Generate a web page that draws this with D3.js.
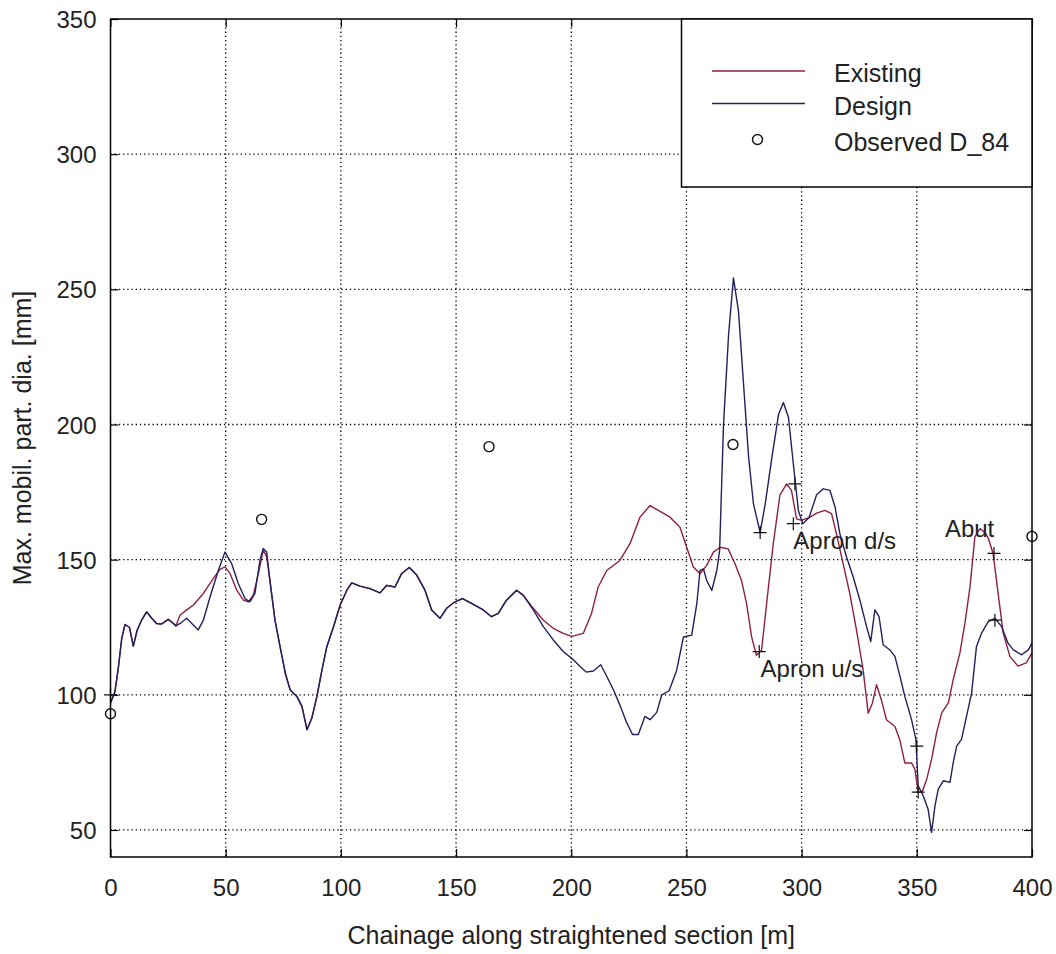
<!DOCTYPE html>
<html>
<head>
<meta charset="utf-8">
<script src="https://cdn.jsdelivr.net/npm/d3@7"></script>
<style>
  html, body { margin: 0; padding: 0; background: #ffffff; }
  svg { display: block; }
  text { font-family: "Liberation Sans", Arial, sans-serif; fill: #222; }
</style>
</head>
<body>
<div id="chart"></div>
<script>
// ---------------- DATA ----------------
const xTicks = [0, 50, 100, 150, 200, 250, 300, 350, 400];
const yTicks = [50, 100, 150, 200, 250, 300, 350];
const xTitle = "Chainage along straightened section [m]";
const yTitle = "Max. mobil. part. dia. [mm]";
const seriesNames = ["Existing", "Design", "Observed D_84"];

const existingChainage = [0,1.9,3.4,4.9,6.3,8.2,9.9,11.6,13.5,15.7,17.9,20,22.2,25.1,27.3,28.4,30.2,33.1,36,40.3,44.6,47.5,49.7,51.9,54.8,57.7,59.8,62,64.2,66.3,67.8,69.2,71.4,73.6,75.9,78,80.9,83.1,85.3,87.4,89.6,91.8,93.9,96.8,99.7,102.6,104.7,108.3,112.6,117,119.9,123.5,126.4,129.7,132.9,136.5,139.4,143,145.9,149.5,152.8,156.7,161.8,165.4,168.3,171.9,176.3,179.2,183.5,187.9,192.2,196.5,200.2,205.2,208.8,211.7,215.4,221.1,225.5,229.8,234.2,237.8,242.9,247.2,250.1,253,255.9,258.8,261.7,264.6,268.1,271.1,273.9,276.1,278.3,280.4,282.6,284.8,287.7,290.6,293.5,295.6,297.8,300,303.6,306.5,310.1,313,315.1,318,320.9,323.8,326.7,328.9,330.7,332.5,334.6,336.8,340.5,342.6,344.8,347.7,349.2,350.6,352.5,354.3,356.4,358.6,360.8,363.7,365.8,368.7,370.9,373.1,375.2,377.4,379.6,381,383.1,385.3,387.5,390.4,393.9,397.5,400];
const existingValues = [97,101,110,121,126,125,118,124,127.6,130.7,128.3,126.4,126.2,127.9,126.4,125.5,129.5,131.4,133.2,137.5,143,146.4,147.3,144.9,138.7,135,134.4,136.9,144.9,153.5,151,142.3,127.6,117.8,107.9,101.8,99.4,95.7,87.1,91.4,99.4,109.2,117.8,125.2,133.2,138.7,141.4,140.2,139.3,137.7,140.5,139.9,144.9,147.1,144.3,138.7,131.4,128.3,132,134.4,135.6,133.8,131.4,128.9,130.1,135,138.7,136.8,132,127.6,124.6,122.7,121.6,122.7,130.1,139.9,146,149.7,155.9,165.7,170,168.2,165.7,162,154.6,147.3,144.8,147.9,152.8,154.6,154,148.5,142.3,133.7,121.4,114.6,116.5,133.7,155.9,174,178,175.6,165.1,164.5,165.7,167.2,168.2,167,159.6,148.5,137.5,124,109.2,93.2,96.9,103.7,98.2,90.8,88.3,83.4,74.8,74.8,72.4,63.8,64.5,68.8,76.1,86,93.3,97,105.6,115.5,126.5,140,158.4,161.5,160,158,152.3,137.5,122.8,114.2,110.6,111.8,115.5];

const designChainage = [0,1.9,3.4,4.9,6.3,8.2,9.9,11.6,13.5,15.7,17.9,20,22.2,25.1,27.3,28.4,30.2,33.1,35.3,38.1,40.3,43.2,46.8,49.7,52.6,55.5,58.4,60.5,62.7,64.9,66.3,67.8,69.2,71.4,73.6,75.9,78,80.9,83.1,85.3,87.4,89.6,91.8,93.9,96.8,99.7,102.6,104.7,108.3,112.6,117,119.9,123.5,126.4,129.7,132.9,136.5,139.4,143,145.9,149.5,152.8,156.7,161.8,165.4,168.3,171.9,176.3,179.2,183.5,187.9,192.2,196.5,200.5,203.8,206.5,209.6,212.8,215.6,218.5,221.2,224,226.6,229.1,232,234.2,237.1,239.3,242.5,245.8,248.7,252.3,254.5,255.9,257.4,258.8,261,263.2,264.4,266.1,268.3,270.4,272.6,274.8,277,279.1,282,284.2,287.1,290,292.1,294.3,296.4,298.6,300.5,303.2,306.5,309.4,312.3,314.5,316.6,319.5,322.4,325.3,328.2,330,331.8,333.6,335.4,338.3,340.5,342.7,344.8,347.7,349.6,350.6,352.8,354.9,356.4,357.9,359.3,361.5,364.4,365.8,367.3,369.4,371.6,373.8,375.9,378.1,381,383.9,386.8,389.6,391.9,395.5,398.4,400];
const designValues = [97,101,110,121,126,125,118,124,127.6,130.7,128.3,126.4,126.2,127.9,126.4,125.5,126.4,128.3,126.4,124,127.6,136.2,146,152.8,148.5,141.1,135.6,134.4,137.5,149.8,154.1,152.8,142.3,127.6,117.8,107.9,101.8,99.4,95.7,87.1,91.4,99.4,109.2,117.8,125.2,133.2,138.7,141.4,140.2,139.3,137.7,140.5,139.9,144.9,147.1,144.3,138.7,131.4,128.3,132,134.4,135.6,133.8,131.4,128.9,130.1,135,138.7,136.8,131.4,125.2,120.3,116,113.3,110.5,108.4,108.8,111.1,106.5,101.5,96,89.8,85.3,85.3,92,90.8,93.5,100,101.5,109.2,121.4,122.1,133.7,146,146.6,142.3,138.6,146,153.4,200,233.3,254.2,241.9,214.8,187.8,170.6,160.1,170.6,187.8,203.8,208.1,202.6,185.4,168.2,163.3,165.5,174,176.2,175.6,169.5,159.6,151,143.6,135,125.2,119.7,131.4,128.9,118.5,116.6,114.2,106.8,99.4,90.8,83.5,66.3,62.6,57.7,49.1,59,65.1,68.2,67.6,74.9,81,83.5,92.1,100.7,117.9,122.8,127.1,128.3,125.2,119.1,116.6,114.8,116.6,119.1];

const observedChainage = [0, 65.6, 164.3, 270.2, 400];
const observedValues = [93, 164.9, 191.8, 192.6, 158.6];

const markerChainage = [0, 281.6, 282.0, 296.4, 297.1, 350.0, 350.6, 383.5, 383.9];
const markerValues = [100, 116, 160, 163.3, 178, 81, 64, 152.3, 127.6];

const labelTexts = ["Apron u/s", "Apron d/s", "Abut"];
const labelChainage = [282.2, 296.4, 362.2];
const labelValues = [106.6, 154.1, 158.4];

// ---------------- LAYOUT ----------------
const W = 1056, H = 954;
const mLeft = 110.5, mRight = 1032, mTop = 19, mBottom = 857;
const colExisting = "#8e1f42";
const colDesign = "#23205c";

const x = d3.scaleLinear().domain([0, 400]).range([mLeft, mRight]);
const y = d3.scaleLinear().domain([40, 350]).range([mBottom, mTop]);

const svg = d3.select("#chart").append("svg").attr("width", W).attr("height", H);
svg.append("rect").attr("width", W).attr("height", H).attr("fill", "#fff");

// grid
const grid = svg.append("g");
grid.selectAll("line.gx").data(xTicks.filter(d => d > 0 && d < 400)).join("line")
  .attr("x1", d => x(d)).attr("x2", d => x(d)).attr("y1", mTop).attr("y2", mBottom)
  .attr("stroke", "#000").attr("stroke-width", 1.3).attr("stroke-dasharray", "1.3,2.9");
grid.selectAll("line.gy").data(yTicks.filter(d => d < 350)).join("line")
  .attr("y1", d => y(d)).attr("y2", d => y(d)).attr("x1", mLeft).attr("x2", mRight)
  .attr("stroke", "#000").attr("stroke-width", 1.3).attr("stroke-dasharray", "1.3,2.9");

// axes (MATLAB style: inner ticks on all four sides)
const tl = 8;
const axB = svg.append("g").attr("transform", `translate(0,${mBottom})`)
  .call(d3.axisBottom(x).tickValues(xTicks).tickSizeInner(-tl).tickSizeOuter(0).tickPadding(22));
const axT = svg.append("g").attr("transform", `translate(0,${mTop})`)
  .call(d3.axisTop(x).tickValues(xTicks).tickSizeInner(-tl).tickSizeOuter(0).tickFormat(""));
const axL = svg.append("g").attr("transform", `translate(${mLeft},0)`)
  .call(d3.axisLeft(y).tickValues(yTicks).tickSizeInner(-tl).tickSizeOuter(0).tickPadding(14));
const axR = svg.append("g").attr("transform", `translate(${mRight},0)`)
  .call(d3.axisRight(y).tickValues(yTicks).tickSizeInner(-tl).tickSizeOuter(0).tickFormat(""));
[axB, axT, axL, axR].forEach(a => {
  a.select(".domain").remove();
  a.selectAll(".tick line").attr("stroke", "#000").attr("stroke-width", 1.2);
  a.selectAll(".tick text").attr("font-family", "Liberation Sans, Arial, sans-serif")
    .attr("font-size", 24).attr("fill", "#222");
});
axB.selectAll(".tick text").attr("dy", "0.71em");
axL.selectAll(".tick text").attr("dy", "0.36em");

// lines
const line = d3.line().x(d => x(d[0])).y(d => y(d[1]));
const existingPts = existingChainage.map((c, i) => [c, existingValues[i]]);
const designPts = designChainage.map((c, i) => [c, designValues[i]]);
svg.append("path").datum(existingPts).attr("d", line)
  .attr("fill", "none").attr("stroke", colExisting).attr("stroke-width", 1.4).attr("stroke-linejoin", "round");
svg.append("path").datum(designPts).attr("d", line)
  .attr("fill", "none").attr("stroke", colDesign).attr("stroke-width", 1.4).attr("stroke-linejoin", "round");

// markers (+)
const ms = 6.5;
const mk = svg.append("g");
markerChainage.forEach((c, i) => {
  const px = x(c), py = y(markerValues[i]);
  mk.append("path").attr("d", `M${px - ms},${py}H${px + ms}M${px},${py - ms}V${py + ms}`)
    .attr("stroke", "#111").attr("stroke-width", 1.2).attr("fill", "none");
});

// observed circles
svg.append("g").selectAll("circle").data(observedChainage.map((c, i) => [c, observedValues[i]])).join("circle")
  .attr("cx", d => x(d[0])).attr("cy", d => y(d[1])).attr("r", 5)
  .attr("fill", "none").attr("stroke", "#111").attr("stroke-width", 1.4);

// annotation labels
svg.append("g").selectAll("text").data(labelTexts).join("text")
  .attr("x", (d, i) => x(labelChainage[i])).attr("y", (d, i) => y(labelValues[i]))
  .attr("font-size", 24).text(d => d);

// frame
svg.append("rect").attr("x", mLeft).attr("y", mTop).attr("width", mRight - mLeft).attr("height", mBottom - mTop)
  .attr("fill", "none").attr("stroke", "#000").attr("stroke-width", 1.5);

// legend
const lg = svg.append("g");
lg.append("rect").attr("x", 681.5).attr("y", mTop).attr("width", mRight - 681.5).attr("height", 187 - mTop)
  .attr("fill", "#fff").attr("stroke", "#000").attr("stroke-width", 1.5);
const legY = [71, 103.5, 139.5];
lg.append("line").attr("x1", 712).attr("x2", 805).attr("y1", legY[0]).attr("y2", legY[0])
  .attr("stroke", colExisting).attr("stroke-width", 1.4);
lg.append("line").attr("x1", 712).attr("x2", 805).attr("y1", legY[1]).attr("y2", legY[1])
  .attr("stroke", colDesign).attr("stroke-width", 1.4);
lg.append("circle").attr("cx", 757.5).attr("cy", legY[2]).attr("r", 5)
  .attr("fill", "none").attr("stroke", "#111").attr("stroke-width", 1.4);
lg.selectAll("text").data(seriesNames).join("text")
  .attr("x", 834).attr("y", (d, i) => legY[i] + 2).attr("dy", "0.36em")
  .attr("font-size", 25).text(d => d);

// axis titles
svg.append("text").attr("x", (mLeft + mRight) / 2).attr("y", 944).attr("text-anchor", "middle")
  .attr("font-size", 25).text(xTitle);
svg.append("text").attr("transform", `translate(31,${(mTop + mBottom) / 2}) rotate(-90)`)
  .attr("text-anchor", "middle").attr("font-size", 25).text(yTitle);
</script>
</body>
</html>
